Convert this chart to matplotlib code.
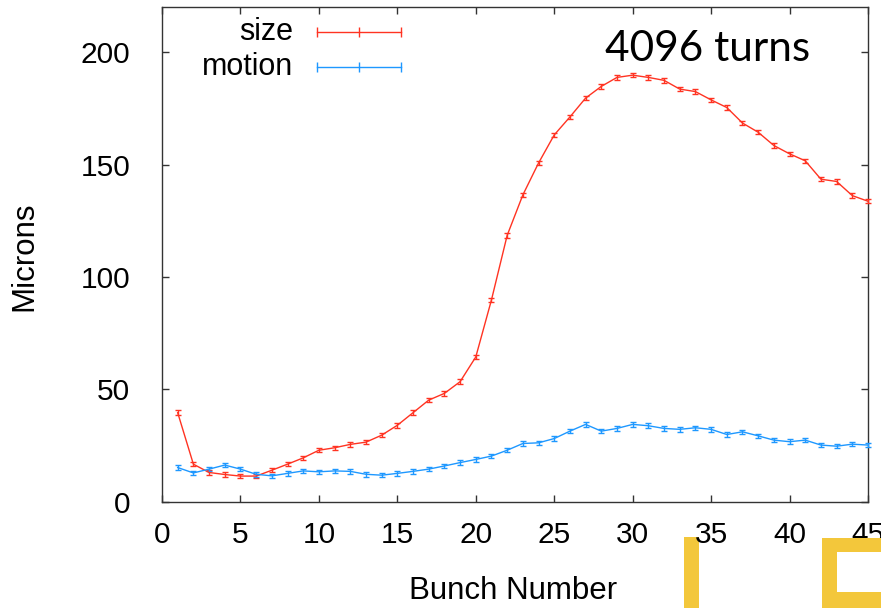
import matplotlib
matplotlib.use("Agg")
import matplotlib.pyplot as plt
from matplotlib.patches import Rectangle

bunch = list(range(1, 46))
size_um = [39.6, 16.7, 13.0, 12.1, 11.4, 11.4, 14.0, 16.7, 19.5, 22.9,
           24.0, 25.5, 26.5, 29.6, 34.0, 39.6, 45.2, 48.2, 53.4, 64.4,
           89.8, 118.5, 136.5, 150.7, 163.2, 171.2, 179.6, 184.8, 188.8, 189.8,
           188.8, 187.5, 183.6, 182.5, 178.8, 175.4, 168.5, 164.4, 158.5, 154.8,
           151.7, 143.5, 142.5, 136.2, 133.7]
motion_um = [15.2, 12.8, 14.5, 16.3, 14.5, 12.2, 11.5, 12.6, 13.7, 13.3,
             13.7, 13.5, 12.2, 11.8, 12.6, 13.5, 14.5, 15.9, 17.4, 18.8,
             20.3, 22.9, 25.9, 26.2, 28.1, 31.4, 34.4, 31.4, 32.6, 34.4,
             33.8, 32.6, 32.2, 32.9, 32.2, 29.9, 31.1, 29.3, 27.4, 26.7,
             27.4, 25.2, 24.7, 25.6, 25.2]
series_names = ["size", "motion"]
xticks = [0, 5, 10, 15, 20, 25, 30, 35, 40, 45]
yticks = [0, 50, 100, 150, 200]

RED = "#ff3322"
BLUE = "#1e98ff"
FONT = "Liberation Sans"

fig = plt.figure(figsize=(8.81, 6.08), dpi=100)
ax = fig.add_axes([162/881, 1 - 501.7/608, 706/881, 494.4/608])

for vals, col in [(size_um, RED), (motion_um, BLUE)]:
    ax.errorbar(bunch, vals, yerr=1.0, color=col, lw=1.0, elinewidth=1.0,
                capsize=2.5, capthick=1.0, clip_on=False, zorder=3)

ax.set_xlim(0, 45)
ax.set_ylim(0, 220)
ax.set_xticks(xticks)
ax.set_yticks(yticks)
ax.tick_params(direction="in", length=5, width=1, color="#333333",
               top=True, right=True, labelsize=21.5)
ax.tick_params(axis="x", pad=14)
ax.tick_params(axis="y", pad=23)
for lab in ax.get_xticklabels() + ax.get_yticklabels():
    lab.set_family(FONT)
for s in ax.spines.values():
    s.set_color("#333333")
    s.set_linewidth(1.0)

ax.set_xlabel("Bunch Number", fontsize=22.5, family=FONT)
ax.set_ylabel("Microns", fontsize=22.5, family=FONT)
ax.xaxis.set_label_coords((513.5-162)/706, -(576-501.7)/494.4)
ax.yaxis.set_label_coords((39-162)/706, 1 - (256-7.3)/494.4)

# legend (gnuplot style)
x1, x2 = (317-162)/706, (401-162)/706
for name, col, yy in [(series_names[0], RED, 0.951), (series_names[1], BLUE, 0.879)]:
    ax.plot([x1, x2], [yy, yy], color=col, lw=1.0, transform=ax.transAxes, clip_on=False)
    ax.plot([x1, (x1+x2)/2, x2], [yy, yy, yy], ls="none", marker="|", ms=7, mew=1.0,
            color=col, transform=ax.transAxes, clip_on=False)
    ax.text((293-162)/706, yy, name, ha="right", va="center", fontsize=22,
            family=FONT, transform=ax.transAxes)

ax.text((810-162)/706, 0.915, "4096 turns", ha="right", va="center", fontsize=30.5,
        family="Lato", transform=ax.transAxes)

# yellow logo fragments
YEL = "#f3c73b"
def fig_rect(x0, y0, x1_, y1_, z):
    return Rectangle((x0/881, 1 - y1_/608), (x1_-x0)/881, (y1_-y0)/608,
                     transform=fig.transFigure, facecolor=YEL, edgecolor="none", zorder=z)
fig.patches.append(fig_rect(684, 537, 699, 612, -1))
fig.patches.append(fig_rect(822, 538, 837, 612, 5))
fig.patches.append(fig_rect(822, 538, 890, 552, 5))
fig.patches.append(fig_rect(822, 592, 890, 612, 5))

fig.savefig("out.png", dpi=100)
